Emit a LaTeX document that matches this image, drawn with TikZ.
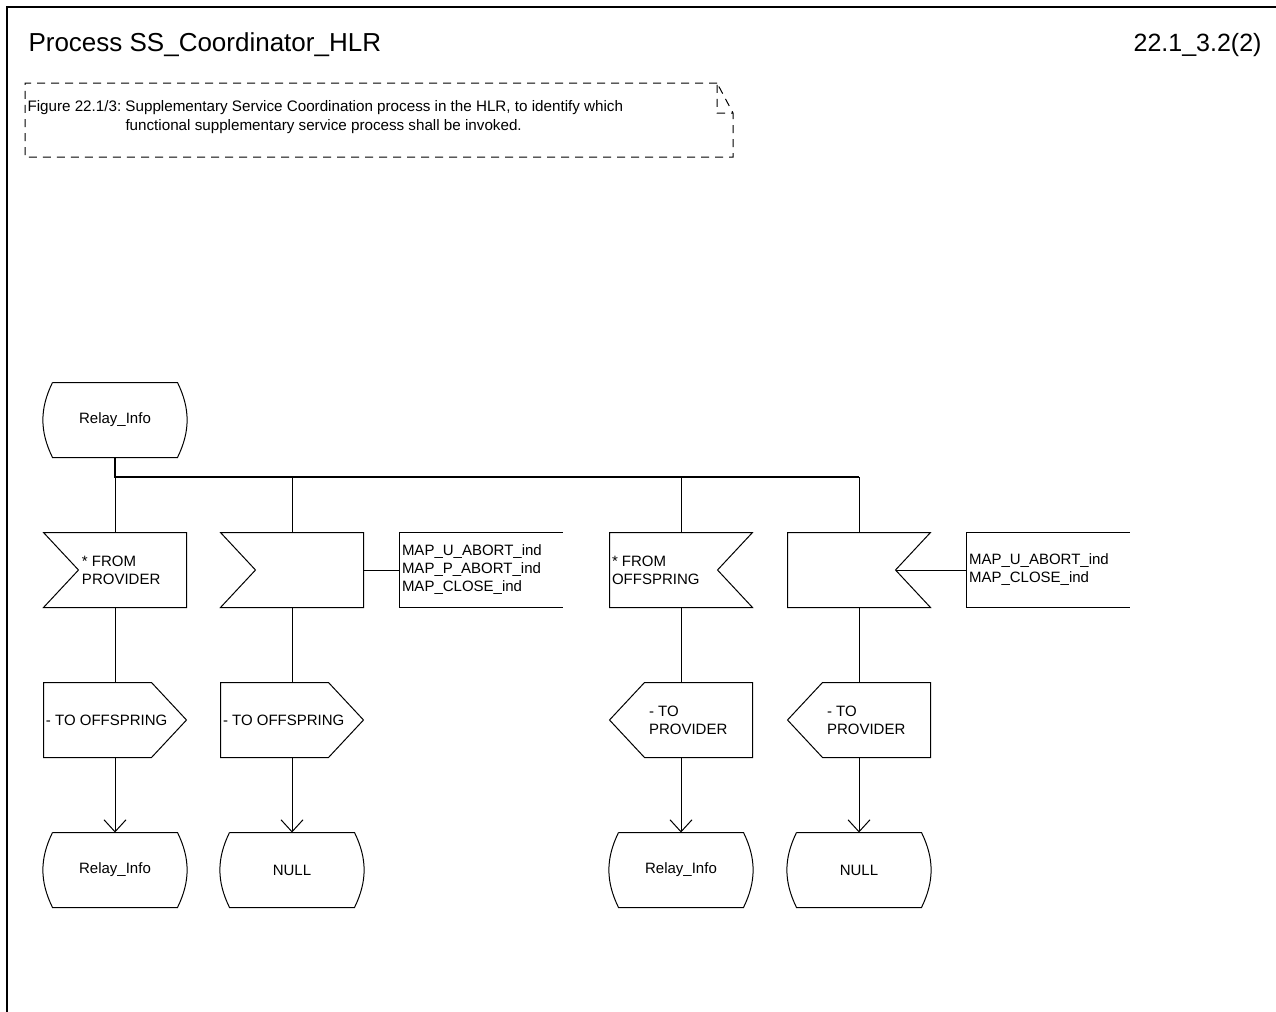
\documentclass[tikz,border=0pt]{standalone}
\usepackage{fontspec}
\setmainfont{Liberation Sans}
\usetikzlibrary{positioning,arrows.meta}

\begin{document}
\begin{tikzpicture}[
    x=0.5pt, y=-0.5pt,
    font=\fontsize{7.5}{9}\selectfont,
    line width=0.5pt,
    shapebox/.style={minimum width=71pt, minimum height=37pt, inner sep=0pt},
    sdlstate/.style={shapebox, append after command={\pgfextra{\let\curnode=\tikzlastnode
        \draw ([xshift=4.5pt]\curnode.north west) -- ([xshift=-4.5pt]\curnode.north east)
        to[out=-64,in=64] ([xshift=-4.5pt]\curnode.south east) -- ([xshift=4.5pt]\curnode.south west)
        to[out=116,in=-116] ([xshift=4.5pt]\curnode.north west);}}},
    sdlinl/.style={shapebox, append after command={\pgfextra{\let\curnode=\tikzlastnode
        \draw (\curnode.north west) -- (\curnode.north east) -- (\curnode.south east)
        -- (\curnode.south west) -- ([xshift=17.5pt]\curnode.west) -- cycle;}}},
    sdlinr/.style={shapebox, append after command={\pgfextra{\let\curnode=\tikzlastnode
        \draw (\curnode.north west) -- (\curnode.north east) -- ([xshift=-17.5pt]\curnode.east)
        -- (\curnode.south east) -- (\curnode.south west) -- cycle;}}},
    sdloutr/.style={shapebox, append after command={\pgfextra{\let\curnode=\tikzlastnode
        \draw (\curnode.north west) -- ([xshift=-17.5pt]\curnode.north east) -- (\curnode.east)
        -- ([xshift=-17.5pt]\curnode.south east) -- (\curnode.south west) -- cycle;}}},
    sdloutl/.style={shapebox, append after command={\pgfextra{\let\curnode=\tikzlastnode
        \draw ([xshift=17.5pt]\curnode.north west) -- (\curnode.north east) -- (\curnode.south east)
        -- ([xshift=17.5pt]\curnode.south west) -- (\curnode.west) -- cycle;}}},
    sdltext/.style={minimum width=81pt, minimum height=37pt, inner xsep=1pt, inner ysep=0pt, text width=79pt, align=left,
        append after command={\pgfextra{\let\curnode=\tikzlastnode
        \draw (\curnode.north east) -- (\curnode.north west) -- (\curnode.south west) -- (\curnode.south east);}}},
    lbl/.style={inner sep=0pt, align=left},
    branch/.style={line width=1pt},
    flow/.style={-{Straight Barb[length=6pt,width=11pt]}}
]
\useasboundingbox (0,0) rectangle (1276,1012);
\draw[line width=1pt] (1276,7) -- (7,7) -- (7,1012);

\node[inner sep=0pt, anchor=base west, font=\fontsize{13}{15}\selectfont] (Title) at (28,52) {Process SS\_Coordinator\_HLR};
\node[inner sep=0pt, anchor=base east, font=\fontsize{12.5}{15}\selectfont] (PageNo) at (1262,52) {22.1\_3.2(2)};

% comment box
\draw[dash pattern=on 4pt off 3pt] (717,83) -- (25,83) -- (25,157) -- (733,157) -- (733,113) -- (717,83) -- (717,113) -- (733,113);
\node[inner sep=0pt, anchor=base west, font=\fontsize{7.6}{9.5}\selectfont] (Caption) at (27,112) {\begin{tabular}[t]{@{}l@{\ }l@{}}
Figure 22.1/3: & Supplementary Service Coordination process in the HLR, to identify which\\
 & functional supplementary service process shall be invoked.
\end{tabular}};

\node[sdlstate] (RelayStart) at (115,420) {Relay\_Info};
\coordinate (Branch) at (115,477);

\node[sdlinl] (InProvider) at (115,570) {};
\node[lbl, right=19pt of InProvider.west] {* FROM\\PROVIDER};
\node[sdlinl] (InAbort) at (292,570) {};
\node[sdltext, right=18pt of InAbort.east] (AbortList) {MAP\_U\_ABORT\_ind\\MAP\_P\_ABORT\_ind\\MAP\_CLOSE\_ind};
\node[sdlinr] (InOffspring) at (681,570) {};
\node[lbl, right=1pt of InOffspring.west] {* FROM\\OFFSPRING};
\node[sdlinr] (InOffAbort) at (859,570) {};
\node[sdltext, right=18pt of InOffAbort.east] (OffAbortList) {MAP\_U\_ABORT\_ind\\MAP\_CLOSE\_ind};

\node[sdloutr] (OutOffspring) at (115,720) {};
\node[lbl, right=1pt of OutOffspring.west] {- TO OFFSPRING};
\node[sdloutr] (OutOffAbort) at (292,720) {};
\node[lbl, right=1pt of OutOffAbort.west] {- TO OFFSPRING};
\node[sdloutl] (OutProvider) at (681,720) {};
\node[lbl, right=19.5pt of OutProvider.west] {- TO\\PROVIDER};
\node[sdloutl] (OutProvAbort) at (859,720) {};
\node[lbl, right=19.5pt of OutProvAbort.west] {- TO\\PROVIDER};

\node[sdlstate] (RelayEnd) at (115,870) {Relay\_Info};
\node[sdlstate] (NullEnd) at (292,870) {NULL};
\node[sdlstate] (RelayEndOff) at (681,870) {Relay\_Info};
\node[sdlstate] (NullEndOff) at (859,870) {NULL};

\draw[branch] (RelayStart.south) -- (Branch) -- (Branch -| InOffAbort.north);
\draw (Branch) -- (InProvider.north);
\draw (Branch -| InAbort.north) -- (InAbort.north);
\draw (Branch -| InOffspring.north) -- (InOffspring.north);
\draw (Branch -| InOffAbort.north) -- (InOffAbort.north);
\draw (InAbort.east) -- (AbortList.west);
\draw ([xshift=-17.5pt]InOffAbort.east) -- (OffAbortList.west);

\draw (InProvider.south) -- (OutOffspring.north);
\draw (InAbort.south) -- (OutOffAbort.north);
\draw (InOffspring.south) -- (OutProvider.north);
\draw (InOffAbort.south) -- (OutProvAbort.north);
\draw[flow] (OutOffspring.south) -- (RelayEnd.north);
\draw[flow] (OutOffAbort.south) -- (NullEnd.north);
\draw[flow] (OutProvider.south) -- (RelayEndOff.north);
\draw[flow] (OutProvAbort.south) -- (NullEndOff.north);
\end{tikzpicture}
\end{document}
